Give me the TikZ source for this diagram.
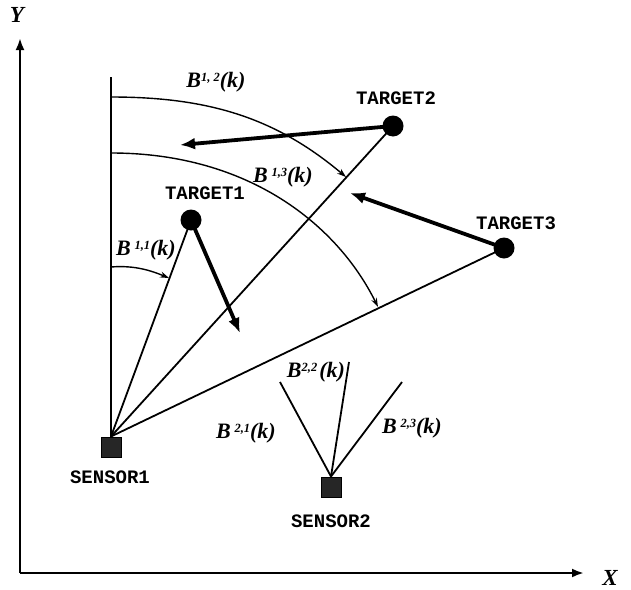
\documentclass[tikz,border=0pt]{standalone}
\usepackage{fontspec}
\setmainfont{Liberation Serif}
\newfontfamily\monofnt{Liberation Mono}
\usetikzlibrary{arrows.meta}
\newcommand{\blab}[2]{{\fontsize{22}{22}\selectfont\bfseries\itshape B#1\raisebox{5.5pt}{\fontsize{12.5}{12.5}\selectfont #2}(k)}}
\begin{document}
\begin{tikzpicture}[x=1pt,y=-1pt,
  axis/.style={line width=2.6pt,-{Latex[length=12pt,width=9pt]}},
  beam/.style={line width=1.8pt},
  move/.style={line width=3.8pt,-{Latex[length=15pt,width=12pt]}},
  arcline/.style={line width=1.4pt,-{Stealth[length=9pt,width=6pt]}},
  target/.style={circle,fill=black,inner sep=0pt,minimum size=21pt},
  sensor/.style={rectangle,draw=black,fill=black!85,inner sep=0pt,minimum size=20pt,line width=1pt},
  tlab/.style={font=\monofnt\bfseries\fontsize{19}{19}\selectfont,inner sep=0pt},
  axlab/.style={font=\fontsize{23}{23}\selectfont\bfseries\itshape,inner sep=0pt}]
\useasboundingbox (0,0) rectangle (631,589);
% axes
\coordinate (o) at (20,573);
\coordinate (ytip) at (20,38);
\coordinate (xtip) at (584,573);
\draw[axis] (o) -- (ytip);
\draw[axis] (o) -- (xtip);
\node[axlab] (ylab) at (17,15) {Y};
\node[axlab] (xlab) at (610,578) {X};
% sensors
\node[sensor] (s1) at (111,447) {};
\node[sensor] (s2) at (331,487) {};
\node[tlab] (s1lab) at (110,477) {SENSOR1};
\node[tlab] (s2lab) at (331,521) {SENSOR2};
% targets
\node[target] (t1) at (191,220) {};
\node[target] (t2) at (393,126) {};
\node[target] (t3) at (504,248) {};
\node[tlab] (t1lab) at (205,193) {TARGET1};
\node[tlab] (t2lab) at (396,98) {TARGET2};
\node[tlab] (t3lab) at (516,223) {TARGET3};
% sensor 1 beams
\coordinate (ref1) at (111,77);
\draw[beam] (s1.north) -- (ref1);
\draw[beam] (s1.north) -- (t1.center);
\draw[beam] (s1.north) -- (t2.center);
\draw[beam] (s1.north) -- (t3.center);
% sensor 2 beams
\coordinate (b21) at (280,382);
\coordinate (b22) at (349,362);
\coordinate (b23) at (402,382);
\draw[beam] (s2.north) -- (b21);
\draw[beam] (s2.north) -- (b22);
\draw[beam] (s2.north) -- (b23);
% motion arrows
\coordinate (m1) at (240,333);
\coordinate (m2) at (180,145);
\coordinate (m3) at (350,193);
\draw[move] (t1.center) -- (m1);
\draw[move] (t2.center) -- (m2);
\draw[move] (t3.center) -- (m3);
% angle arcs
\coordinate (a12s) at (111,97);
\coordinate (a12e) at (346,177);
\draw[arcline] (a12s) .. controls (211,97) and (277,119) .. (a12e);
\coordinate (a13s) at (111,153);
\coordinate (a13e) at (378,307);
\draw[arcline] (a13s) .. controls (250,153) and (338,226) .. (a13e);
\coordinate (a11s) at (111,267);
\coordinate (a11e) at (169,278);
\draw[arcline] (a11s) .. controls (135,265) and (152,271) .. (a11e);
% labels
\node[inner sep=0pt] (l12) at (216,82) {\blab{}{1, 2}};
\node[inner sep=0pt] (l13) at (283,177) {\blab{\,}{1,3}};
\node[inner sep=0pt] (l11) at (146,250) {\blab{\,}{1,1}};
\node[inner sep=0pt] (l22) at (316,372) {\blab{}{2,2\,}};
\node[inner sep=0pt] (l21) at (246,433) {\blab{\,}{2,1}};
\node[inner sep=0pt] (l23) at (412,428) {\blab{\,}{2,3}};
\end{tikzpicture}
\end{document}
